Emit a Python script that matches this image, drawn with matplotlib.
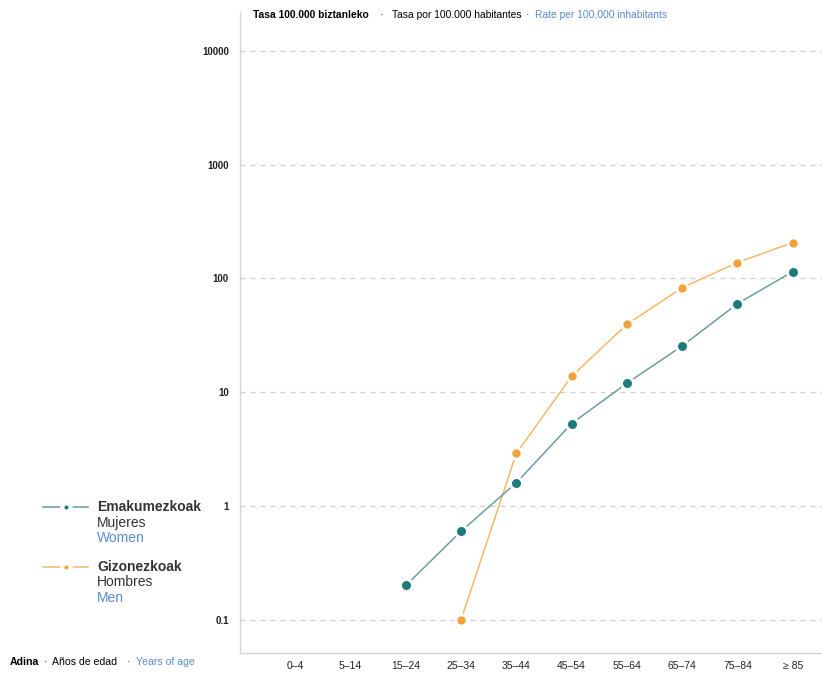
import numpy as np
import matplotlib.pyplot as plt
from matplotlib.lines import Line2D

plt.rcParams['font.family'] = ['Liberation Sans', 'DejaVu Sans']

# Datos
edades = ['0–4', '5–14', '15–24', '25–34', '35–44', '45–54', '55–64', '65–74', '75–84', '≥ 85']
mujeres = [None, None, 0.2, 0.6, 1.6, 5.3, 12, 25.5, 60, 115]
hombres = [None, None, None, 0.1, 2.9, 13.8, 39.5, 83, 138, 207]
yticks = [0.1, 1, 10, 100, 1000, 10000]
ytick_labels = ['0.1', '1', '10', '100', '1000', '10000']

teal = '#1d7b7b'
teal_line = '#6a9e9e'
orange = '#f2a23a'
orange_line = '#f6b768'
blue = '#5b8ccb'
spine = '#d9d3d0'

fig = plt.figure(figsize=(8.22, 6.74), dpi=100)
ax = fig.add_axes([240 / 822, 21 / 674, 582 / 822, 641 / 674])

x = np.arange(len(edades))


def serie(vals):
    xs = [i for i, v in zip(x, vals) if v is not None]
    ys = [v for v in vals if v is not None]
    return xs, ys


xm, ym = serie(mujeres)
xh, yh = serie(hombres)

ax.plot(xh, yh, color=orange_line, lw=1.1, zorder=3)
ax.plot(xh, yh, 'o', color=orange, ms=8, mec='white', mew=2, zorder=4)
ax.plot(xm, ym, color=teal_line, lw=1.1, zorder=3)
ax.plot(xm, ym, 'o', color=teal, ms=8.5, mec='white', mew=2, zorder=4)

ax.set_yscale('log')
ax.set_ylim(0.051, 22000)
ax.set_xlim(-1, 9.53)
ax.set_yticks(yticks)
ax.set_yticklabels(ytick_labels, fontsize=7, fontweight='bold', color='#222222')
ax.minorticks_off()
ax.set_xticks(x)
ax.set_xticklabels(edades, fontsize=7.5, color='#222222')
ax.tick_params(length=0, pad=8)
ax.tick_params(axis='x', pad=6)

for v in yticks:
    ax.axhline(v, color='#cfcfcf', lw=0.9, ls=(0, (4, 4)), zorder=1)

for s in ['top', 'right']:
    ax.spines[s].set_visible(False)
for s in ['left', 'bottom']:
    ax.spines[s].set_color(spine)
    ax.spines[s].set_linewidth(1)

# Titulo
ty = 1 - 15 / 674
fig.text(253 / 822, ty, 'Tasa 100.000 biztanleko', fontsize=7.4,
         fontweight='bold', va='center', ha='left')
fig.text(381 / 822, ty, '·', fontsize=7.4, va='center', ha='center')
fig.text(392 / 822, ty, 'Tasa por 100.000 habitantes', fontsize=7.4,
         va='center', ha='left')
fig.text(527 / 822, ty, '·', fontsize=7.4, va='center', ha='center')
fig.text(535 / 822, ty, 'Rate per 100,000 inhabitants', fontsize=7.4,
         color=blue, va='center', ha='left')

# Eje x
by = 1 - 662 / 674
fig.text(10 / 822, by, 'Adina', fontsize=7.6, fontweight='bold', va='center')
fig.text(45 / 822, by, '·', fontsize=7.6, va='center', ha='center')
fig.text(52 / 822, by, 'Años de edad', fontsize=7.6, va='center')
fig.text(128 / 822, by, '·', fontsize=7.6, va='center', ha='center')
fig.text(136 / 822, by, 'Years of age', fontsize=7.6, color=blue, va='center')

# Leyenda
for y0, c, cl, n1, n2, n3 in [(507, teal, teal_line, 'Emakumezkoak', 'Mujeres', 'Women'),
                              (567, orange, orange_line, 'Gizonezkoak', 'Hombres', 'Men')]:
    yy = 1 - y0 / 674
    fig.add_artist(Line2D([43 / 822, 88 / 822], [yy, yy], color=cl, lw=1.1))
    fig.add_artist(Line2D([66 / 822], [yy], marker='o', color=c, ms=6,
                          mec='white', mew=3))
    fig.text(97 / 822, yy, n1, fontsize=10, fontweight='bold', color='#333333', va='center')
    fig.text(97 / 822, 1 - (y0 + 15.5) / 674, n2, fontsize=10, color='#333333', va='center')
    fig.text(97 / 822, 1 - (y0 + 31) / 674, n3, fontsize=10, color=blue, va='center')

fig.savefig('out.png', dpi=100, facecolor='white')
